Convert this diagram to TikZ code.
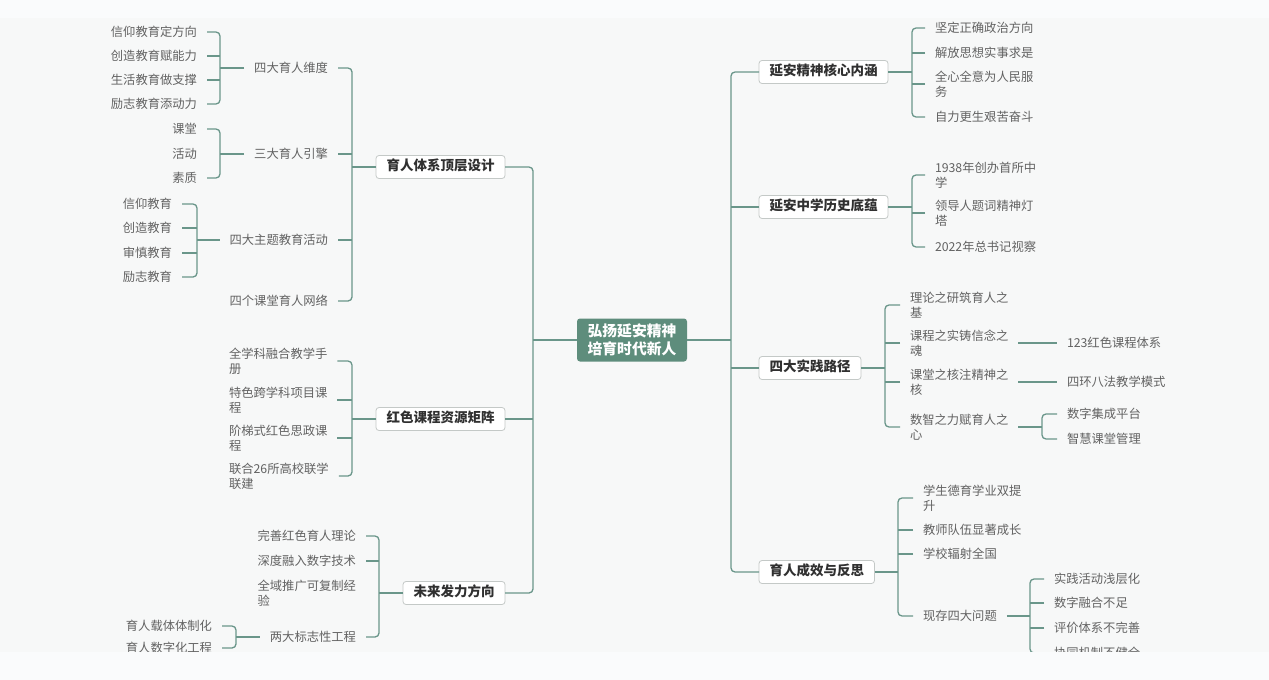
\documentclass[tikz,border=0pt]{standalone}
\usepackage{fontspec}
\setmainfont{Noto Sans CJK SC}
\usepackage{tikz}
\definecolor{bgcol}{HTML}{F7F8F8}
\definecolor{bandcol}{HTML}{FAFBFC}
\definecolor{linkcol}{HTML}{6A968A}
\definecolor{leafcol}{HTML}{626262}
\definecolor{boxtext}{HTML}{303030}
\definecolor{boxline}{HTML}{C4C9C7}
\definecolor{rootcol}{HTML}{5E8D7C}
\begin{document}
\begin{tikzpicture}[x=1pt,y=-1pt,
  every node/.style={outer sep=0pt},
  leaf/.style={text=leafcol, inner xsep=10pt, inner ysep=2pt, align=left,
    font=\fontsize{12.3}{15}\selectfont},
  topic/.style={draw=boxline, line width=0.8pt, fill=white, rounded corners=3pt,
    text=boxtext, inner xsep=10.5pt, inner ysep=5pt, text height=10pt, text depth=3pt,
    font=\bfseries\fontsize{13.5}{16}\selectfont},
  rootbox/.style={fill=rootcol, rounded corners=3pt, text=white, align=center,
    minimum width=110pt, minimum height=43pt, font=\bfseries\fontsize{14.8}{18}\selectfont},
  link/.style={draw=linkcol, line width=1.3pt, rounded corners=4pt}]
\useasboundingbox (0,0) rectangle (1269,680);
\fill[bgcol] (0,0) rectangle (1269,680);
\fill[bandcol] (0,0) rectangle (1269,18);
\fill[bandcol] (0,652) rectangle (1269,680);
\begin{scope}
\clip (0,18) rectangle (1269,651);

\node[rootbox] (root) at (632,340) {弘扬延安精神\\培育时代新人};

\node[topic, anchor=east] (sys) at (505,167) {育人体系顶层设计};
\node[topic, anchor=east] (res) at (505,419) {红色课程资源矩阵};
\node[topic, anchor=east] (fut) at (505,593) {未来发力方向};
\node[topic, anchor=west] (core) at (759,72) {延安精神核心内涵};
\node[topic, anchor=west] (hist) at (759,207) {延安中学历史底蕴};
\node[topic, anchor=west] (path) at (759,368) {四大实践路径};
\node[topic, anchor=west] (eff) at (759,572) {育人成效与反思};
\coordinate (sL) at (533,340);
\coordinate (sR) at (731,340);

\node[leaf, anchor=east] (dim) at (338,68) {四大育人维度};
\node[leaf, anchor=east] (eng) at (338,154) {三大育人引擎};
\node[leaf, anchor=east] (act) at (338,240) {四大主题教育活动};
\node[leaf, anchor=east] (net) at (338,301) {四个课堂育人网络};
\coordinate (s1) at (352,167);

\node[leaf, anchor=east] (d1) at (207,32) {信仰教育定方向};
\node[leaf, anchor=east] (d2) at (207,56) {创造教育赋能力};
\node[leaf, anchor=east] (d3) at (207,80) {生活教育做支撑};
\node[leaf, anchor=east] (d4) at (207,104) {励志教育添动力};
\coordinate (s11) at (220,68);

\node[leaf, anchor=east] (e1a) at (207,129) {课堂};
\node[leaf, anchor=east] (e1b) at (207,154) {活动};
\node[leaf, anchor=east] (e1c) at (207,178) {素质};
\coordinate (s12) at (220,154);

\node[leaf, anchor=east] (a1) at (182,204) {信仰教育};
\node[leaf, anchor=east] (a2) at (182,228) {创造教育};
\node[leaf, anchor=east] (a3) at (182,253) {审慎教育};
\node[leaf, anchor=east] (a4) at (182,277) {励志教育};
\coordinate (s13) at (197,240);

\node[leaf, anchor=west] (r1) at (219,361) {全学科融合教学手\\册};
\node[leaf, anchor=west] (r2) at (219,400) {特色跨学科项目课\\程};
\node[leaf, anchor=west] (r3) at (219,438) {阶梯式红色思政课\\程};
\node[leaf, anchor=west] (r4) at (219,476) {联合26所高校联学\\联建};
\coordinate (s2) at (352,419);

\node[leaf, anchor=east] (f1) at (366,536) {完善红色育人理论};
\node[leaf, anchor=east] (f2) at (366,561) {深度融入数字技术};
\node[leaf, anchor=east] (f3) at (366,593) {全域推广可复制经\\验};
\node[leaf, anchor=east] (f4) at (366,637) {两大标志性工程};
\coordinate (s3) at (379,593);

\node[leaf, anchor=east] (g1) at (222,626) {育人载体体制化};
\node[leaf, anchor=east] (g2) at (222,648) {育人数字化工程};
\coordinate (s31) at (236,637);

\node[leaf, anchor=west] (c1) at (925,28) {坚定正确政治方向};
\node[leaf, anchor=west] (c2) at (925,53) {解放思想实事求是};
\node[leaf, anchor=west] (c3) at (925,84) {全心全意为人民服\\务};
\node[leaf, anchor=west] (c4) at (925,117) {自力更生艰苦奋斗};
\coordinate (c0) at (912,72);

\node[leaf, anchor=west] (h1) at (925,175) {1938年创办首所中\\学};
\node[leaf, anchor=west] (h2) at (925,213) {领导人题词精神灯\\塔};
\node[leaf, anchor=west] (h3) at (925,247) {2022年总书记视察};
\coordinate (h0) at (912,207);

\node[leaf, anchor=west] (p1) at (900,305) {理论之研筑育人之\\基};
\node[leaf, anchor=west] (p2) at (900,343) {课程之实铸信念之\\魂};
\node[leaf, anchor=west] (p3) at (900,382) {课堂之核注精神之\\核};
\node[leaf, anchor=west] (p4) at (900,427) {数智之力赋育人之\\心};
\coordinate (p0) at (885,368);

\node[leaf, anchor=west] (p21) at (1057,343) {123红色课程体系};
\node[leaf, anchor=west] (p31) at (1057,382) {四环八法教学模式};
\node[leaf, anchor=west] (p41) at (1057,414) {数字集成平台};
\node[leaf, anchor=west] (p42) at (1057,439) {智慧课堂管理};
\coordinate (p40) at (1042,427);

\node[leaf, anchor=west] (t1) at (913,498) {学生德育学业双提\\升};
\node[leaf, anchor=west] (t2) at (913,530) {教师队伍显著成长};
\node[leaf, anchor=west] (t3) at (913,554) {学校辐射全国};
\node[leaf, anchor=west] (t4) at (913,616) {现存四大问题};
\coordinate (t0) at (898,572);

\node[leaf, anchor=west] (q1) at (1044,579) {实践活动浅层化};
\node[leaf, anchor=west] (q2) at (1044,603) {数字融合不足};
\node[leaf, anchor=west] (q3) at (1044,628) {评价体系不完善};
\node[leaf, anchor=west] (q4) at (1044,653) {协同机制不健全};
\coordinate (t40) at (1030,616);

\draw[link] (root.west) -- (sL);
\draw[link] (sys.east) -| (sL) |- (fut.east);
\draw[link] (res.east) -- (res.east -| sL);
\draw[link] (root.east) -- (sR);
\draw[link] (core.west) -| (sR) |- (eff.west);
\draw[link] (hist.west) -- (hist.west -| sR);
\draw[link] (path.west) -- (path.west -| sR);

\draw[link] (sys.west) -- (s1);
\draw[link] (dim.east) -| (s1) |- (net.east);
\draw[link] (eng.east) -- (eng.east -| s1);
\draw[link] (act.east) -- (act.east -| s1);

\draw[link] (dim.west) -- (s11);
\draw[link] (d1.east) -| (s11) |- (d4.east);
\draw[link] (d2.east) -- (d2.east -| s11);
\draw[link] (d3.east) -- (d3.east -| s11);

\draw[link] (eng.west) -- (s12);
\draw[link] (e1a.east) -| (s12) |- (e1c.east);

\draw[link] (act.west) -- (s13);
\draw[link] (a1.east) -| (s13) |- (a4.east);
\draw[link] (a2.east) -- (a2.east -| s13);
\draw[link] (a3.east) -- (a3.east -| s13);

\draw[link] (res.west) -- (s2);
\draw[link] (r1.east) -| (s2) |- (r4.east);
\draw[link] (r2.east) -- (r2.east -| s2);
\draw[link] (r3.east) -- (r3.east -| s2);

\draw[link] (fut.west) -- (s3);
\draw[link] (f1.east) -| (s3) |- (f4.east);
\draw[link] (f2.east) -- (f2.east -| s3);

\draw[link] (f4.west) -- (s31);
\draw[link] (g1.east) -| (s31) |- (g2.east);

\draw[link] (core.east) -- (c0);
\draw[link] (c1.west) -| (c0) |- (c4.west);
\draw[link] (c2.west) -- (c2.west -| c0);
\draw[link] (c3.west) -- (c3.west -| c0);

\draw[link] (hist.east) -- (h0);
\draw[link] (h1.west) -| (h0) |- (h3.west);
\draw[link] (h2.west) -- (h2.west -| h0);

\draw[link] (path.east) -- (p0);
\draw[link] (p1.west) -| (p0) |- (p4.west);
\draw[link] (p2.west) -- (p2.west -| p0);
\draw[link] (p3.west) -- (p3.west -| p0);
\draw[link] (p2.east) -- (p21.west);
\draw[link] (p3.east) -- (p31.west);
\draw[link] (p4.east) -- (p40);
\draw[link] (p41.west) -| (p40) |- (p42.west);

\draw[link] (eff.east) -- (t0);
\draw[link] (t1.west) -| (t0) |- (t4.west);
\draw[link] (t2.west) -- (t2.west -| t0);
\draw[link] (t3.west) -- (t3.west -| t0);
\draw[link] (t4.east) -- (t40);
\draw[link] (q1.west) -| (t40) |- (q4.west);
\draw[link] (q2.west) -- (q2.west -| t40);
\draw[link] (q3.west) -- (q3.west -| t40);
\end{scope}
\end{tikzpicture}
\end{document}
